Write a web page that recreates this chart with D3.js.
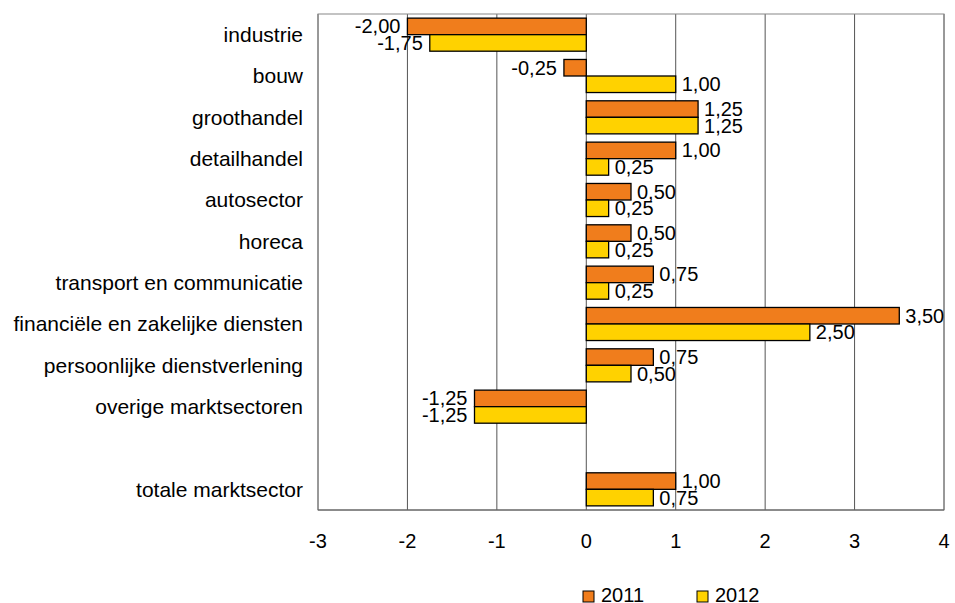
<!DOCTYPE html>
<html>
<head>
<meta charset="utf-8">
<script src="https://cdn.jsdelivr.net/npm/d3@7"></script>
<style>
body { margin: 0; background: #fff; }
text { font-family: "Liberation Sans", Arial, sans-serif; fill: #000; }
</style>
</head>
<body>
<div id="chart"></div>
<script>
var categories = ["industrie", "bouw", "groothandel", "detailhandel", "autosector", "horeca",
  "transport en communicatie", "financiële en zakelijke diensten", "persoonlijke dienstverlening",
  "overige marktsectoren", "", "totale marktsector"];
var series = ["2011", "2012"];
var values2011 = [-2.00, -0.25, 1.25, 1.00, 0.50, 0.50, 0.75, 3.50, 0.75, -1.25, null, 1.00];
var values2012 = [-1.75, 1.00, 1.25, 0.25, 0.25, 0.25, 0.25, 2.50, 0.50, -1.25, null, 0.75];
var xTicks = [-3, -2, -1, 0, 1, 2, 3, 4];
var colours = ["#f07d1c", "#ffd200"];

var width = 955, height = 603;
var margin = {top: 14, right: 11, bottom: 93, left: 318};

var svg = d3.select("#chart")
  .append("svg")
  .attr("width", width)
  .attr("height", height);

var g = svg.append("g")
  .attr("transform", "translate(" + margin.left + "," + margin.top + ")");

var w = width - margin.left - margin.right,
    h = height - margin.top - margin.bottom;

var x = d3.scaleLinear().domain([-3, 4]).range([0, w]);
var y = d3.scaleBand().domain(d3.range(categories.length)).range([0, h]).paddingInner(0.2).paddingOuter(0.1);
var ySub = d3.scaleBand().domain(series).range([0, y.bandwidth()]);

// grid
g.selectAll(".grid")
  .data(xTicks)
  .enter()
  .append("line")
  .attr("x1", function (d) { return x(d); })
  .attr("x2", function (d) { return x(d); })
  .attr("y1", 0)
  .attr("y2", h)
  .attr("stroke", "#555")
  .attr("stroke-width", 1);

g.append("rect")
  .attr("x", 0).attr("y", 0)
  .attr("width", w).attr("height", h)
  .attr("fill", "none")
  .attr("stroke", "#888");

g.append("line")
  .attr("x1", 0).attr("x2", w)
  .attr("y1", h).attr("y2", h)
  .attr("stroke", "#555");

// x tick labels
g.selectAll(".xtick")
  .data(xTicks)
  .enter()
  .append("text")
  .attr("x", function (d) { return x(d); })
  .attr("y", h + 38)
  .attr("text-anchor", "middle")
  .style("font-size", "20px")
  .text(function (d) { return d; });

// category labels
g.selectAll(".cat")
  .data(categories)
  .enter()
  .append("text")
  .attr("x", -15)
  .attr("y", function (d, i) { return y(i) + y.bandwidth() / 2; })
  .attr("dy", "0.35em")
  .attr("text-anchor", "end")
  .style("font-size", "21px")
  .text(function (d) { return d; });

var fmt = function (v) { return v.toFixed(2).replace(".", ","); };

series.forEach(function (s, si) {
  var vals = si === 0 ? values2011 : values2012;
  var data = vals.map(function (v, i) { return {i: i, v: v}; }).filter(function (d) { return d.v !== null; });

  g.selectAll(".bar" + s)
    .data(data)
    .enter()
    .append("rect")
    .attr("x", function (d) { return x(Math.min(0, d.v)); })
    .attr("y", function (d) { return y(d.i) + ySub(s); })
    .attr("width", function (d) { return Math.abs(x(d.v) - x(0)); })
    .attr("height", ySub.bandwidth())
    .attr("fill", colours[si])
    .attr("stroke", "#000")
    .attr("stroke-width", 1.3);

  g.selectAll(".lab" + s)
    .data(data)
    .enter()
    .append("text")
    .attr("x", function (d) { return d.v < 0 ? x(d.v) - 7 : x(d.v) + 6; })
    .attr("y", function (d) { return y(d.i) + ySub(s) + ySub.bandwidth() / 2; })
    .attr("dy", "0.35em")
    .attr("text-anchor", function (d) { return d.v < 0 ? "end" : "start"; })
    .style("font-size", "20px")
    .text(function (d) { return fmt(d.v); });
});

// legend
var legend = svg.append("g").attr("transform", "translate(583,591)");
series.forEach(function (s, si) {
  var lg = legend.append("g").attr("transform", "translate(" + (si * 114) + ",0)");
  lg.append("rect")
    .attr("width", 11).attr("height", 11)
    .attr("y", 0)
    .attr("fill", colours[si])
    .attr("stroke", "#000");
  lg.append("text")
    .attr("x", 18).attr("y", 11)
    .style("font-size", "20px")
    .text(s);
});
</script>
</body>
</html>
